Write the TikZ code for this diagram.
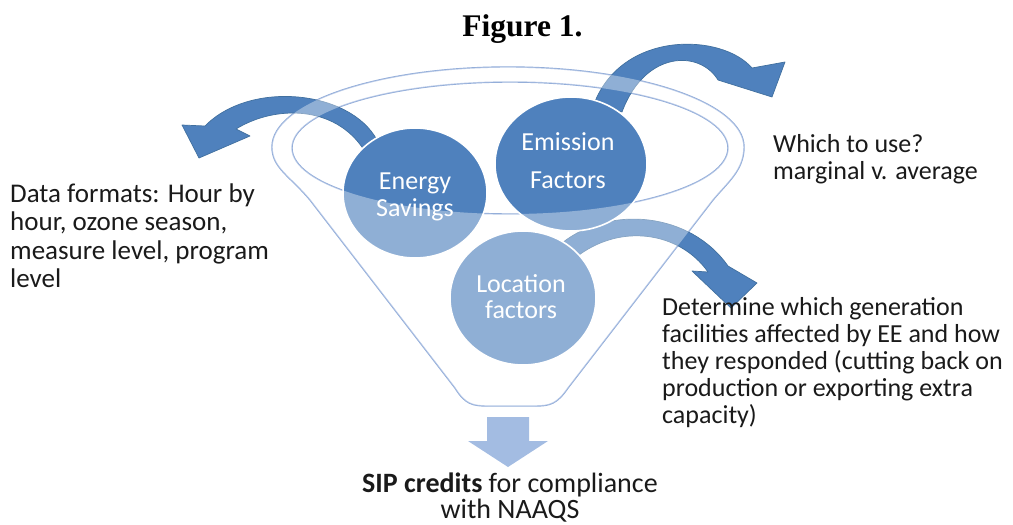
\documentclass[tikz,border=0pt]{standalone}
\usepackage{fontspec}
\setmainfont{Carlito}
\newfontfamily\titlefont{Liberation Serif}
\usetikzlibrary{shapes.geometric}
\definecolor{accent}{HTML}{4F81BD}
\definecolor{accentdark}{HTML}{41709F}
\definecolor{rimblue}{HTML}{8FAAD8}
\definecolor{downblue}{HTML}{A3BCE2}
\definecolor{ink}{HTML}{1A1A1A}
% outline of the funnel: top rim, right wall, rounded spout, left wall
\def\funnelpath{(272,147) arc[start angle=180, end angle=360, x radius=236, y radius=80]
  .. controls (744,170) and (728,182) .. (713,200) -- (568,388)
  .. controls (557,404) and (550,406) .. (535,406) -- (488,406)
  .. controls (472,406) and (465,404) .. (455,388) -- (310,200)
  .. controls (290,176) and (272,168) .. cycle}
\begin{document}
\begin{tikzpicture}[x=1pt,y=-1pt,
  bubble/.style={ellipse, fill=accent, draw=white, line width=1.6pt, inner sep=0pt},
  bandarrow/.style={fill=accent, draw=accentdark, line width=0.7pt, line join=round},
  rim/.style={draw=rimblue, line width=1.4pt},
  bubbletext/.style={text=white, inner sep=0pt, anchor=base},
  note/.style={text=ink, inner sep=0pt, anchor=base west},
]
\useasboundingbox (0,0) rectangle (1013,525);

% title
\node[anchor=base, inner sep=0pt, font=\titlefont\bfseries\fontsize{31.5}{32}\selectfont] (title) at (522.5,36) {Figure 1.};

% funnel outlines
\draw[rim] \funnelpath;
\draw[rim] (510,148) ellipse[x radius=218, y radius=66];

% curved block arrows leaving the bubbles
\path[bandarrow] (377,140) .. controls (350,90) and (250,80) .. (205,126)
  -- (182,125) -- (199,158) -- (250,136) -- (236,129)
  .. controls (275,105) and (335,105) .. (364,150) -- cycle;
\path[bandarrow] (594,104) .. controls (622,30) and (722,33) .. (752,68)
  -- (785,62) -- (772,97) -- (718,80)
  .. controls (700,50) and (645,50) .. (622,112) -- cycle;
\path[bandarrow] (562,243) .. controls (610,205) and (690,212) .. (728,266)
  -- (757,283) -- (731,308) -- (692,271) -- (708,272)
  .. controls (680,232) and (620,222) .. (575,258) -- cycle;

% bubbles
\node[bubble, minimum width=144pt, minimum height=130pt] (es) at (415,193) {};
\node[bubble, minimum width=152pt, minimum height=134pt] (ef) at (571,164) {};
\node[bubble, minimum width=146pt, minimum height=134pt] (lf) at (523,298) {};

% translucent body of the funnel in front of the bubbles
\fill[white, fill opacity=0.37, even odd rule] \funnelpath
  (510,148) ellipse[x radius=218, y radius=66];

% bubble labels
\node[bubbletext, font=\fontsize{26}{27}\selectfont] (es-label) at (415,189)
  {\parbox[t]{130pt}{\centering Energy\\Savings}};
\node[bubbletext, font=\fontsize{26}{38}\selectfont] (ef-label) at (568,150)
  {\parbox[t]{130pt}{\centering Emission\\Factors}};
\node[bubbletext, font=\fontsize{26}{26}\selectfont] (lf-label) at (521,292)
  {\parbox[t]{130pt}{\centering Location\\factors}};

% output of the funnel
\path[fill=downblue] (487,417) -- (529,417) -- (529,441) -- (548,441)
  -- (508,467) -- (468,441) -- (487,441) -- cycle;

% side notes
\node[note, font=\fontsize{27}{28.5}\selectfont] (formats) at (10,202)
  {\parbox[t]{300pt}{\raggedright Data formats: Hour by\\hour, ozone season,\\measure level, program\\level}};
\node[note, font=\fontsize{26}{27}\selectfont] (which) at (773,152)
  {\parbox[t]{240pt}{\raggedright Which to use?\\marginal v. average}};
\node[note, font=\fontsize{26}{27}\selectfont] (determine) at (662,315)
  {\parbox[t]{360pt}{\raggedright Determine which generation\\facilities affected by EE and how\\they responded (cutting back on\\production or exporting extra\\capacity)}};
\node[text=ink, inner sep=0pt, anchor=base, font=\fontsize{28}{26}\selectfont] (sip) at (510,492)
  {\parbox[t]{420pt}{\centering\textbf{SIP credits} for compliance\\with NAAQS}};
\end{tikzpicture}
\end{document}
